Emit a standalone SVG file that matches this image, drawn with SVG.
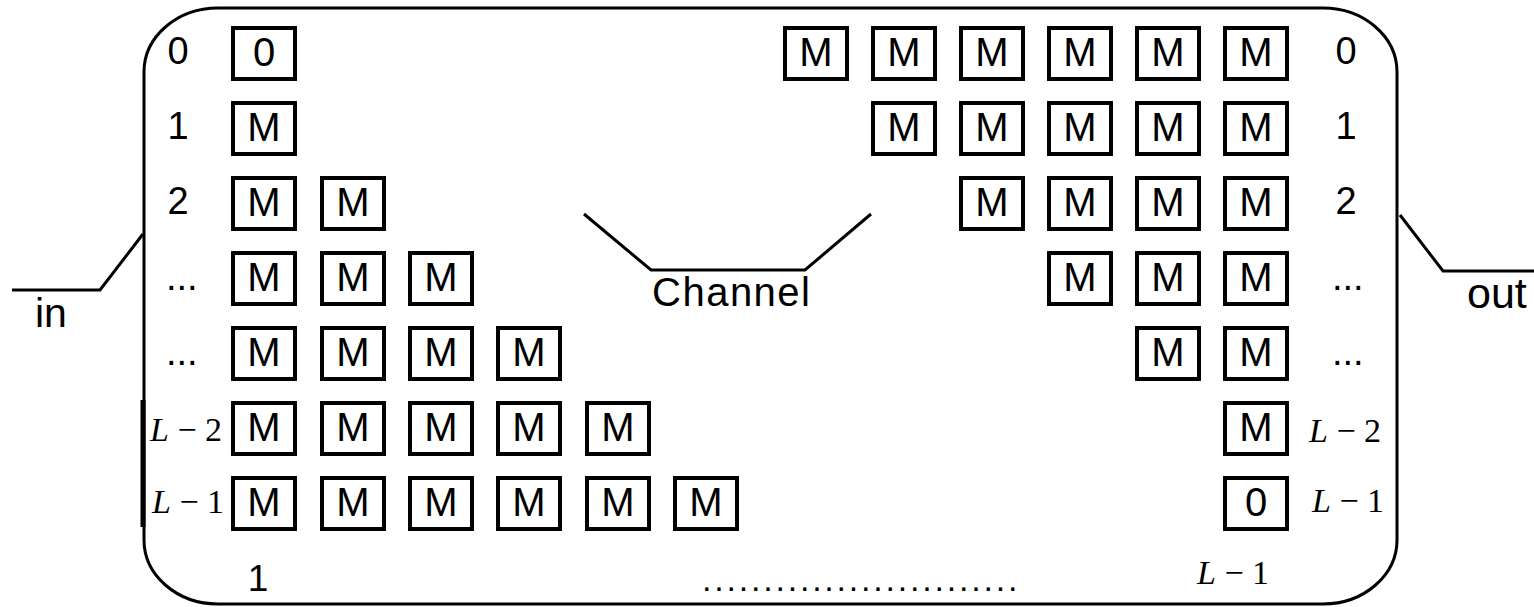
<svg xmlns="http://www.w3.org/2000/svg" width="1534" height="607" viewBox="0 0 1534 607">
<style>
.box rect{fill:#fff;stroke:#000;stroke-width:4}
.box text{font-family:"Liberation Sans",Arial,sans-serif;font-size:40px;text-anchor:middle;fill:#000}
.lbl{font-family:"Liberation Sans",Arial,sans-serif;font-size:38px;fill:#000}
.mid{text-anchor:middle}
.math{font-family:"Liberation Serif","Times New Roman",serif;font-size:34px;fill:#000}
.ln{fill:none;stroke:#000;stroke-width:3}
</style>
<rect x="144" y="8" width="1253" height="596" rx="74" ry="64" fill="#fff" stroke="#000" stroke-width="3"/>
<line x1="143" y1="400" x2="143" y2="527" stroke="#000" stroke-width="5"/>
<g id="connectors">
<polyline class="ln" points="12,290 100,290 143,234"/>
<polyline class="ln" points="1400,215 1443,271 1534,271"/>
<polyline class="ln" points="584,214 651,270 805,270 871,214"/>
</g>
<g id="labels">
<text class="lbl" x="35" y="327" style="font-size:41px">in</text>
<text class="lbl" x="1467" y="308" style="font-size:43px">out</text>
<text class="lbl" x="652" y="306" style="font-size:40px" textLength="158">Channel</text>
<text class="lbl mid" x="178" y="64">0</text>
<text class="lbl mid" x="178" y="139">1</text>
<text class="lbl mid" x="178" y="214">2</text>
<text class="lbl" x="166" y="290">...</text>
<text class="lbl" x="166" y="365">...</text>
<text class="math" x="150" y="441"><tspan font-style="italic">L</tspan> − 2</text>
<text class="math" x="152" y="513"><tspan font-style="italic">L</tspan> − 1</text>
<text class="lbl mid" x="1346" y="64">0</text>
<text class="lbl mid" x="1346" y="139">1</text>
<text class="lbl mid" x="1346" y="214">2</text>
<text class="lbl" x="1332" y="290">...</text>
<text class="lbl" x="1332" y="365">...</text>
<text class="math" x="1309" y="442"><tspan font-style="italic">L</tspan> − 2</text>
<text class="math" x="1312" y="512"><tspan font-style="italic">L</tspan> − 1</text>
<text class="lbl mid" x="258" y="591" style="font-size:37px">1</text>
<text class="lbl" x="702" y="591" style="font-size:34px;letter-spacing:2.79px">..........................</text>
<text class="math" x="1197" y="584"><tspan font-style="italic">L</tspan> − 1</text>
</g>
<g id="left-r0c0" class="box"><rect x="233" y="28" width="62" height="51"/><text x="264" y="66">0</text></g>
<g id="left-r1c0" class="box"><rect x="233" y="103" width="62" height="51"/><text x="264" y="141">M</text></g>
<g id="left-r2c0" class="box"><rect x="233" y="178" width="62" height="51"/><text x="264" y="216">M</text></g>
<g id="left-r2c1" class="box"><rect x="322" y="178" width="62" height="51"/><text x="353" y="216">M</text></g>
<g id="left-r3c0" class="box"><rect x="233" y="253" width="62" height="51"/><text x="264" y="291">M</text></g>
<g id="left-r3c1" class="box"><rect x="322" y="253" width="62" height="51"/><text x="353" y="291">M</text></g>
<g id="left-r3c2" class="box"><rect x="410" y="253" width="62" height="51"/><text x="441" y="291">M</text></g>
<g id="left-r4c0" class="box"><rect x="233" y="328" width="62" height="51"/><text x="264" y="366">M</text></g>
<g id="left-r4c1" class="box"><rect x="322" y="328" width="62" height="51"/><text x="353" y="366">M</text></g>
<g id="left-r4c2" class="box"><rect x="410" y="328" width="62" height="51"/><text x="441" y="366">M</text></g>
<g id="left-r4c3" class="box"><rect x="498" y="328" width="62" height="51"/><text x="529" y="366">M</text></g>
<g id="left-r5c0" class="box"><rect x="233" y="403" width="62" height="51"/><text x="264" y="441">M</text></g>
<g id="left-r5c1" class="box"><rect x="322" y="403" width="62" height="51"/><text x="353" y="441">M</text></g>
<g id="left-r5c2" class="box"><rect x="410" y="403" width="62" height="51"/><text x="441" y="441">M</text></g>
<g id="left-r5c3" class="box"><rect x="498" y="403" width="62" height="51"/><text x="529" y="441">M</text></g>
<g id="left-r5c4" class="box"><rect x="587" y="403" width="62" height="51"/><text x="618" y="441">M</text></g>
<g id="left-r6c0" class="box"><rect x="233" y="478" width="62" height="51"/><text x="264" y="516">M</text></g>
<g id="left-r6c1" class="box"><rect x="322" y="478" width="62" height="51"/><text x="353" y="516">M</text></g>
<g id="left-r6c2" class="box"><rect x="410" y="478" width="62" height="51"/><text x="441" y="516">M</text></g>
<g id="left-r6c3" class="box"><rect x="498" y="478" width="62" height="51"/><text x="529" y="516">M</text></g>
<g id="left-r6c4" class="box"><rect x="587" y="478" width="62" height="51"/><text x="618" y="516">M</text></g>
<g id="left-r6c5" class="box"><rect x="675" y="478" width="62" height="51"/><text x="706" y="516">M</text></g>
<g id="right-r0c0" class="box"><rect x="785" y="28" width="62" height="51"/><text x="816" y="66">M</text></g>
<g id="right-r0c1" class="box"><rect x="873" y="28" width="62" height="51"/><text x="904" y="66">M</text></g>
<g id="right-r0c2" class="box"><rect x="961" y="28" width="62" height="51"/><text x="992" y="66">M</text></g>
<g id="right-r0c3" class="box"><rect x="1049" y="28" width="62" height="51"/><text x="1080" y="66">M</text></g>
<g id="right-r0c4" class="box"><rect x="1137" y="28" width="62" height="51"/><text x="1168" y="66">M</text></g>
<g id="right-r0c5" class="box"><rect x="1225" y="28" width="62" height="51"/><text x="1256" y="66">M</text></g>
<g id="right-r1c1" class="box"><rect x="873" y="103" width="62" height="51"/><text x="904" y="141">M</text></g>
<g id="right-r1c2" class="box"><rect x="961" y="103" width="62" height="51"/><text x="992" y="141">M</text></g>
<g id="right-r1c3" class="box"><rect x="1049" y="103" width="62" height="51"/><text x="1080" y="141">M</text></g>
<g id="right-r1c4" class="box"><rect x="1137" y="103" width="62" height="51"/><text x="1168" y="141">M</text></g>
<g id="right-r1c5" class="box"><rect x="1225" y="103" width="62" height="51"/><text x="1256" y="141">M</text></g>
<g id="right-r2c2" class="box"><rect x="961" y="178" width="62" height="51"/><text x="992" y="216">M</text></g>
<g id="right-r2c3" class="box"><rect x="1049" y="178" width="62" height="51"/><text x="1080" y="216">M</text></g>
<g id="right-r2c4" class="box"><rect x="1137" y="178" width="62" height="51"/><text x="1168" y="216">M</text></g>
<g id="right-r2c5" class="box"><rect x="1225" y="178" width="62" height="51"/><text x="1256" y="216">M</text></g>
<g id="right-r3c3" class="box"><rect x="1049" y="253" width="62" height="51"/><text x="1080" y="291">M</text></g>
<g id="right-r3c4" class="box"><rect x="1137" y="253" width="62" height="51"/><text x="1168" y="291">M</text></g>
<g id="right-r3c5" class="box"><rect x="1225" y="253" width="62" height="51"/><text x="1256" y="291">M</text></g>
<g id="right-r4c4" class="box"><rect x="1137" y="328" width="62" height="51"/><text x="1168" y="366">M</text></g>
<g id="right-r4c5" class="box"><rect x="1225" y="328" width="62" height="51"/><text x="1256" y="366">M</text></g>
<g id="right-r5c5" class="box"><rect x="1225" y="403" width="62" height="51"/><text x="1256" y="441">M</text></g>
<g id="right-r6c5" class="box"><rect x="1225" y="478" width="62" height="51"/><text x="1256" y="516">0</text></g>
</svg>
